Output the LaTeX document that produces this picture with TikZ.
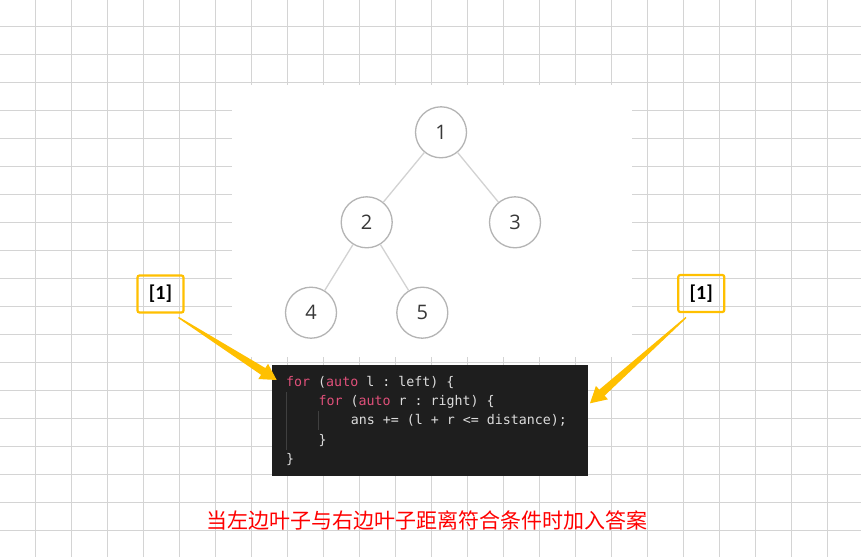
\documentclass[tikz,border=0pt]{standalone}
\usepackage{fontspec}
\setmainfont{Open Sans}
\newfontfamily\codefont{DejaVu Sans Mono}
\newfontfamily\labfont{Carlito}
\newfontfamily\cjk{Noto Sans CJK SC}
\usetikzlibrary{calc}
\definecolor{gridc}{HTML}{D4D4D4}
\definecolor{circc}{HTML}{B4B4B4}
\definecolor{edgec}{HTML}{D2D2D2}
\definecolor{numc}{HTML}{383838}
\definecolor{codebg}{HTML}{1E1E1E}
\definecolor{codefg}{HTML}{DCDCDC}
\definecolor{kwc}{HTML}{E0507A}
\definecolor{guide}{HTML}{404040}
\definecolor{yel}{HTML}{FFC000}
\tikzset{
  treenode/.style={circle,draw=circc,line width=1.3pt,fill=white,minimum size=51pt,inner sep=0pt,
    font=\fontsize{20}{20}\selectfont,text=numc},
  treeedge/.style={draw=edgec,line width=1.3pt},
  codeline/.style={anchor=base west,inner sep=0pt,text=codefg,font=\codefont\frenchspacing\fontsize{13.3}{13.3}\selectfont},
  labbox/.style={draw=yel,line width=2.2pt,rounded corners=2pt,minimum width=46pt,minimum height=37pt,
    inner sep=0pt,font=\labfont\bfseries\fontsize{20}{20}\selectfont,text=black},
}
\newcommand{\kw}[1]{\textcolor{kwc}{#1}}
\newcommand{\yarrow}[2]{%
  \coordinate (n) at ($(#2)!16pt!(#1)$);
  \fill[yel] ($(#1)!0.7pt!90:(#2)$) -- ($(n)!4pt!90:(#2)$) -- ($(n)!9pt!90:(#2)$) -- (#2)
     -- ($(n)!9pt!-90:(#2)$) -- ($(n)!4pt!-90:(#2)$) -- ($(#1)!0.7pt!-90:(#2)$) -- cycle;}
\begin{document}
\begin{tikzpicture}[x=1pt,y=-1pt]
\useasboundingbox (0,0) rectangle (861,557);
\fill[white] (0,0) rectangle (861,557);
% grid
\foreach \k in {0,...,22} { \draw[gridc,line width=1pt] ({35.3+36*\k},0) -- ({35.3+36*\k},557); }
\foreach \k in {0,...,18} { \draw[gridc,line width=1pt] (0,{26.3+28*\k}) -- (861,{26.3+28*\k}); }
% white picture area
\fill[white] (232,85) rectangle (632,357);
% tree
\node[treenode] (t1) at (441,132.3) {1};
\node[treenode] (t2) at (366.7,222.3) {2};
\node[treenode] (t3) at (515,222.3) {3};
\node[treenode] (t4) at (311,312.7) {4};
\node[treenode] (t5) at (422.3,312.7) {5};
\draw[treeedge] (t1) -- (t2);
\draw[treeedge] (t1) -- (t3);
\draw[treeedge] (t2) -- (t4);
\draw[treeedge] (t2) -- (t5);
% code box
\node[fill=codebg,minimum width=316pt,minimum height=111pt,inner sep=0pt,anchor=north west] (code) at (272,365) {};
\draw[guide,line width=0.8pt] (286.5,392) -- (286.5,450);
\draw[guide,line width=0.8pt] (318.8,411) -- (318.8,430);
\node[codeline] (c1) at (286,386.5) {\kw{for} (\kw{auto} l : left) \{};
\node[codeline] (c2) at (318.3,405.7) {\kw{for} (\kw{auto} r : right) \{};
\node[codeline] (c3) at (350.6,424.9) {ans += (l + r <= distance);};
\node[codeline] (c4) at (318.3,444.1) {\}};
\node[codeline] (c5) at (286,463.3) {\}};
% labels
\node[labbox] (l1) at (160.5,294) {[1]};
\node[labbox] (l2) at (701.3,293.5) {[1]};
\coordinate (a1s) at (178.5,317.5);
\coordinate (a1t) at (276.7,380);
\coordinate (a2s) at (686,317.5);
\coordinate (a2t) at (590,403.3);
\yarrow{a1s}{a1t}
\yarrow{a2s}{a2t}
% caption
\node[text=red,font=\cjk\fontsize{21}{21}\selectfont,inner sep=0pt] (cap) at (426.7,520) {当左边叶子与右边叶子距离符合条件时加入答案};
\end{tikzpicture}
\end{document}
